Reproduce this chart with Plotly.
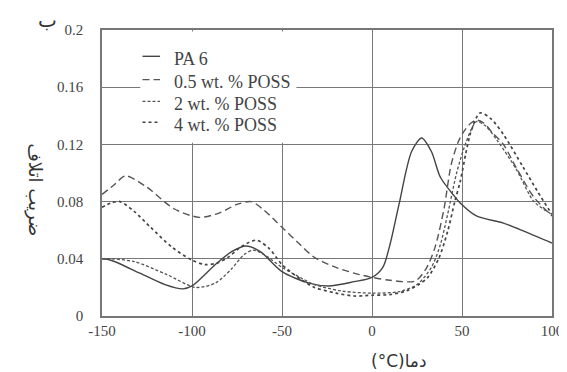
import plotly.graph_objects as go

# Data
pa6_x = [-150, -145, -129, -115, -105, -100, -87, -78, -70, -62, -50, -35, -24, -10, 0, 6, 10, 15, 22, 27.6, 33, 38, 45, 49, 58, 73, 85, 100]
pa6_y = [0.040, 0.039, 0.030, 0.022, 0.019, 0.021, 0.036, 0.045, 0.049, 0.045, 0.031, 0.023, 0.021, 0.024, 0.027, 0.034, 0.050, 0.078, 0.115, 0.1245, 0.115, 0.097, 0.085, 0.079, 0.070, 0.065, 0.059, 0.051]

p05_x = [-150, -143, -137, -125, -110, -96, -85, -75, -67, -60, -50, -40, -32, -20, -10, 0, 10, 24, 30, 35, 40, 44, 48, 51, 55, 58, 62, 67, 73, 80, 90, 100]
p05_y = [0.085, 0.092, 0.098, 0.090, 0.075, 0.069, 0.072, 0.078, 0.080, 0.074, 0.062, 0.050, 0.041, 0.034, 0.030, 0.027, 0.025, 0.0245, 0.033, 0.048, 0.075, 0.106, 0.122, 0.129, 0.135, 0.137, 0.135, 0.128, 0.120, 0.104, 0.083, 0.070]

p2_x = [-150, -145, -132, -114, -98, -87, -78, -71, -66, -60, -50, -40, -32, -17, 0, 15, 25, 33, 38, 42, 47, 51, 55, 58, 63, 70, 80, 90, 100]
p2_y = [0.040, 0.040, 0.038, 0.029, 0.020, 0.023, 0.033, 0.043, 0.046, 0.043, 0.034, 0.027, 0.022, 0.0175, 0.016, 0.017, 0.022, 0.034, 0.050, 0.071, 0.100, 0.117, 0.130, 0.136, 0.133, 0.122, 0.103, 0.080, 0.071]

p4_x = [-150, -145, -140, -132, -123, -111, -100, -93, -86, -80, -72, -64, -57, -50, -40, -32, -20, -10, 0, 10, 19, 26, 31, 37, 42, 46, 49, 52, 55, 60, 66, 73, 84, 92, 100]
p4_y = [0.076, 0.079, 0.080, 0.073, 0.062, 0.048, 0.039, 0.036, 0.037, 0.041, 0.049, 0.053, 0.047, 0.036, 0.026, 0.020, 0.016, 0.014, 0.0145, 0.015, 0.0175, 0.022, 0.027, 0.040, 0.059, 0.080, 0.094, 0.113, 0.129, 0.142, 0.138, 0.127, 0.104, 0.087, 0.071]

series_names = ["PA 6", "0.5 wt. % POSS", "2 wt. % POSS", "4 wt. % POSS"]

x_tickvals = [-150, -100, -50, 0, 50, 100]
x_ticktext = ["-150", "-100", "-50", "0", "50", "100"]
y_tickvals = [0, 0.04, 0.08, 0.12, 0.16, 0.2]
y_ticktext = ["0", "0.04", "0.08", "0.12", "0.16", "0.2"]

serif = "Liberation Serif"

styles = [
    dict(color="#444", width=1.4, dash="solid"),
    dict(color="#555", width=1.4, dash="7px,4px"),
    dict(color="#555", width=1.3, dash="3px,2px"),
    dict(color="#444", width=1.7, dash="dot"),
]

fig = go.Figure()
for name, xs, ys, st in zip(series_names, [pa6_x, p05_x, p2_x, p4_x], [pa6_y, p05_y, p2_y, p4_y], styles):
    fig.add_trace(go.Scatter(x=xs, y=ys, mode="lines", name=name, showlegend=False,
                             line=dict(shape="spline", smoothing=0.8, **st)))

axis_common = dict(showline=True, linecolor="#777", linewidth=1.5, mirror=True,
                   showgrid=True, gridcolor="#777", gridwidth=1.3, zeroline=False,
                   ticks="", tickfont=dict(family=serif, size=15, color="#444"))

fig.update_xaxes(range=[-150, 100], tickvals=x_tickvals, ticktext=x_ticktext, **axis_common)
fig.update_yaxes(range=[0, 0.2], tickvals=y_tickvals, ticktext=y_ticktext, ticklabelstandoff=14, **axis_common)

# Legend drawn as a white box with short line samples and serif labels (as in the reference)
shapes = [dict(type="rect", xref="paper", yref="paper", x0=0.085, x1=0.432, y0=0.606, y1=0.995,
               fillcolor="white", line=dict(width=0), layer="above")]
annotations = []
legend_rows_y = [0.9, 0.8186, 0.7427, 0.6694]  # paper fractions of each legend row
for name, st, ry in zip(series_names, styles, legend_rows_y):
    shapes.append(dict(type="line", xref="paper", yref="paper", x0=0.09, x1=0.129,
                       y0=ry + 0.008, y1=ry + 0.008, layer="above",
                       line=dict(color=st["color"], width=st["width"], dash=st["dash"])))
    annotations.append(dict(text=name, xref="paper", yref="paper", x=0.155, y=ry,
                            xanchor="left", yanchor="middle", showarrow=False,
                            font=dict(family=serif, size=18, color="#444")))

annotations += [
    dict(text="(°C)دما", xref="paper", yref="paper", x=0.66, y=-0.158,
         showarrow=False, font=dict(family="DejaVu Sans", size=17, color="#333"),
         xanchor="center", yanchor="middle"),
    dict(text="ضریب اتلاف", xref="paper", yref="paper", x=-0.149, y=0.44,
         showarrow=False, textangle=90, font=dict(family="DejaVu Sans", size=18, color="#333"),
         xanchor="center", yanchor="middle"),
    dict(text="ب", xref="paper", yref="paper", x=-0.122, y=1.035,
         showarrow=False, font=dict(family="DejaVu Sans", size=20, color="#333"),
         xanchor="center", yanchor="middle"),
]

fig.update_layout(
    width=567, height=372,
    margin=dict(l=94, r=12, t=22, b=64),
    paper_bgcolor="white", plot_bgcolor="white",
    font=dict(family=serif),
    showlegend=False,
    shapes=shapes,
    annotations=annotations,
)

fig.write_html("out.html")
